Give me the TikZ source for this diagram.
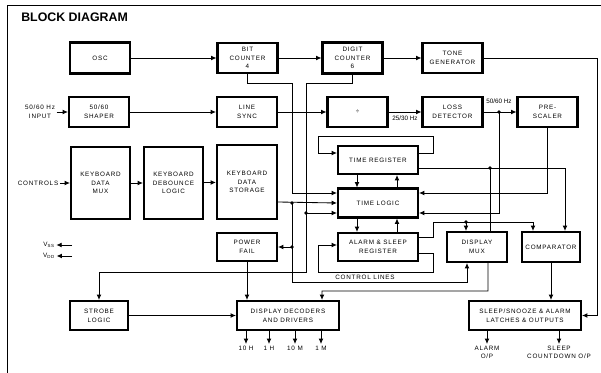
\documentclass[tikz,border=0pt]{standalone}
\usepackage{fontspec}
\setmainfont{Liberation Sans}
\newfontfamily\lblfont[LetterSpace=12]{Liberation Sans}
\usetikzlibrary{arrows.meta}

\begin{document}
\begin{tikzpicture}[x=0.025cm,y=-0.025cm,
    box/.style={draw=black,line width=1.45pt,align=center,inner sep=1pt,
      font=\lblfont\fontsize{4.5}{6.2}\selectfont},
    lbl/.style={align=center,inner sep=1pt,font=\lblfont\fontsize{4.5}{6.2}\selectfont},
    arr/.style={line width=0.6pt,-{Latex[length=3.8pt,width=3.4pt]}},
    wire/.style={line width=0.6pt}]
    \useasboundingbox (0,0) rectangle (601,373);
    \draw[wire] (7,373) -- (7,5) -- (601,5);
    \node[anchor=west,inner sep=0pt,font=\bfseries\fontsize{8.8}{10}\selectfont] (TT) at (21,17) {BLOCK DIAGRAM};
    % top rows
    \node[box,minimum width=1.5cm,minimum height=0.775cm] (OSC) at (100,58) {OSC};
    \node[box,minimum width=1.5cm,minimum height=0.75cm] (BC) at (247.5,58) {BIT\\COUNTER\\4};
    \node[box,minimum width=1.5cm,minimum height=0.775cm] (DC) at (352.5,58) {DIGIT\\COUNTER\\6};
    \node[box,minimum width=1.5cm,minimum height=0.75cm] (TG) at (452.5,58) {TONE\\GENERATOR};
    \node[lbl] (IN) at (40,112) {50/60 Hz\\INPUT};
    \node[box,minimum width=1.5cm,minimum height=0.75cm] (SH) at (99,112) {50/60\\SHAPER};
    \node[box,minimum width=1.5cm,minimum height=0.75cm] (LS) at (247,112) {LINE\\SYNC};
    \node[box,minimum width=1.5cm,minimum height=0.75cm] (DIV) at (357.5,112) {÷};
    \node[box,minimum width=1.5cm,minimum height=0.75cm] (LD) at (452.5,112) {LOSS\\DETECTOR};
    \node[box,minimum width=1.5cm,minimum height=0.75cm] (SC) at (547.5,112) {PRE-\\SCALER};
    \node[lbl,font=\fontsize{4.5}{5}\selectfont] (F1) at (405,118.5) {25/30 Hz};
    \node[lbl,font=\fontsize{4.5}{5}\selectfont] (F2) at (499,101.5) {50/60 Hz};
    % keyboard
    \node[lbl] (CT) at (38,183) {CONTROLS};
    \node[box,minimum width=1.475cm,minimum height=1.8cm] (KM) at (100.5,183) {KEYBOARD\\DATA\\MUX};
    \node[box,minimum width=1.475cm,minimum height=1.8cm] (KD) at (173.5,183) {KEYBOARD\\DEBOUNCE\\LOGIC};
    \node[box,minimum width=1.5cm,minimum height=1.85cm] (KS) at (247,182) {KEYBOARD\\DATA\\STORAGE};
    \node[box,minimum width=1.5cm,minimum height=0.7cm] (PF) at (247,247) {POWER\\FAIL};
    \node[lbl] (VS) at (49,245) {V\textsubscript{SS}};
    \node[lbl] (VD) at (49,256) {V\textsubscript{DD}};
    \coordinate (vs) at (72,245);
    \coordinate (vd) at (72,256);
    % registers
    \node[box,minimum width=2cm,minimum height=0.7cm] (TR) at (378,160) {TIME REGISTER};
    \node[box,minimum width=2cm,minimum height=0.725cm] (TL) at (378,203) {TIME LOGIC};
    \node[box,minimum width=2cm,minimum height=0.7cm] (AR) at (378,247) {ALARM \& SLEEP\\REGISTER};
    \node[box,minimum width=1.5cm,minimum height=0.75cm] (DM) at (477,247) {DISPLAY\\MUX};
    \node[box,minimum width=1.45cm,minimum height=0.75cm] (CM) at (551,247) {COMPARATOR};
    \node[lbl] (CL) at (365,277) {CONTROL LINES};
    % bottom row
    \node[box,minimum width=1.45cm,minimum height=0.725cm] (SL) at (99,315.5) {STROBE\\LOGIC};
    \node[box,minimum width=2.55cm,minimum height=0.725cm] (DD) at (288,315.5) {DISPLAY DECODERS\\AND DRIVERS};
    \node[box,minimum width=2.8cm,minimum height=0.725cm] (SS) at (525,315.5) {SLEEP/SNOOZE \& ALARM\\LATCHES \& OUTPUTS};
    \node[lbl,anchor=north] (H10) at (246,344) {10 H};
    \node[lbl,anchor=north] (H1) at (269,344) {1 H};
    \node[lbl,anchor=north] (M10) at (295,344) {10 M};
    \node[lbl,anchor=north] (M1) at (321,344) {1 M};
    \node[lbl,anchor=north] (AO) at (487,344) {ALARM\\O/P};
    \node[lbl,anchor=north] (SO) at (559,344) {SLEEP\\COUNTDOWN O/P};
    % bend points
    \coordinate (b1) at (292,83);
    \coordinate (d1) at (306,83);
    \coordinate (d2) at (306,272);
    \coordinate (k1) at (292,203);
    \coordinate (k2) at (292,282);
    \coordinate (l1) at (499,112);
    \coordinate (t1) at (433,136);
    \coordinate (t2) at (318,136);
    \coordinate (a1) at (433,222);
    \coordinate (a2) at (433,272);
    \coordinate (a3) at (318,272);
    \coordinate (m1) at (488,291);
    \coordinate (tr) at ([yshift=-0.2cm]TR.east);
    \coordinate (tl3) at ([yshift=-0.25cm]TL.west);
    \coordinate (ks) at ([yshift=-0.5cm]KS.east);
    \coordinate (dm0) at ([xshift=-0.275cm]DM.north);
    \coordinate (dm1) at ([xshift=-0.25cm]DM.south);
    \coordinate (dm2) at ([xshift=0.275cm]DM.south);
    \coordinate (dm3) at ([xshift=0.325cm]DM.north);
    \coordinate (dd1) at ([xshift=0.85cm]DD.north);
    % straight arrows
    \path [arr](OSC) edge node {} (BC);
    \path [arr](BC) edge node {} (DC);
    \path [arr](DC) edge node {} (TG);
    \path [arr](IN) edge node {} (SH);
    \path [arr](SH) edge node {} (LS);
    \path [arr](LS) edge node {} (DIV);
    \path [arr](DIV) edge node {} (LD);
    \path [arr](LD) edge node {} (SC);
    \path [arr](CT) edge node {} (KM);
    \path [arr](KM) edge node {} (KD);
    \path [arr](KD) edge node {} (KS);
    \path [arr](SL) edge node {} (DD);
    \path [arr](vs) edge node {} (VS);
    \path [arr](vd) edge node {} (VD);
    % counters to time logic and strobe
    \draw[arr] (BC.south) |- (b1) |- ([yshift=0.25cm]TL.west);
    \draw[arr] (DC.south) |- (d1) -- (d2) -| (SL.north);
    \draw[arr] (d1 |- tl3) -- (tl3);
    \fill (d1 |- tl3) circle (1.3pt);
    % keyboard data bus
    \draw[arr] (ks) -- (TL.west);
    \draw[arr] (k1) -- (k2) -| (dm1);
    \draw[arr] (k1 |- PF.east) -- (PF.east);
    \fill (k1) circle (1.3pt);
    \fill (k1 |- PF.east) circle (1.3pt);
    \draw[arr] (PF.south) -- (PF.south |- DD.north);
    % line frequency path
    \draw[arr] (SC.south) |- ([yshift=0.25cm]TL.east);
    \draw[arr] (l1) |- ([yshift=-0.25cm]TL.east);
    \fill (l1) circle (1.3pt);
    \draw[arr] (TG.east) -| ([xshift=0.375cm]SS.east) -- (SS.east);
    % registers
    \draw[arr] ([yshift=0.175cm]TR.east) -| (t1) -- (t2) |- ([yshift=0.175cm]TR.west);
    \draw[arr] ([xshift=-0.525cm]TR.south) -- ([xshift=-0.525cm]TL.north);
    \draw[arr] ([xshift=0.475cm]TL.north) -- ([xshift=0.475cm]TR.south);
    \draw[arr] ([xshift=-0.525cm]TL.south) -- ([xshift=-0.525cm]AR.north);
    \draw[arr] ([xshift=0.475cm]AR.north) -- ([xshift=0.475cm]TL.south);
    \draw[arr] (tr) -| ([xshift=0.35cm]CM.north);
    \draw[wire] (dm3 |- tr) -- (dm3);
    \fill (dm3 |- tr) circle (1.3pt);
    \draw[arr] ([yshift=0.25cm]AR.east) -| (a1) -| ([xshift=-0.45cm]CM.north);
    \draw[arr] (dm0 |- a1) -- (dm0);
    \fill (dm0 |- a1) circle (1.3pt);
    \draw[arr] ([yshift=-0.15cm]AR.east) -| (a2) -- (a3) |- ([yshift=0.05cm]AR.west);
    % outputs
    \draw[arr] (dm2) -- (m1) -| (dd1);
    \draw[arr] (CM.south) -- (CM.south |- SS.north);
    \draw[arr] (DD.south -| H10) -- (H10);
    \draw[arr] (DD.south -| H1) -- (H1);
    \draw[arr] (DD.south -| M10) -- (M10);
    \draw[arr] (DD.south -| M1) -- (M1);
    \draw[arr] (SS.south -| AO) -- (AO);
    \draw[arr] (SS.south -| SO) -- (SO);
  \end{tikzpicture}
\end{document}
